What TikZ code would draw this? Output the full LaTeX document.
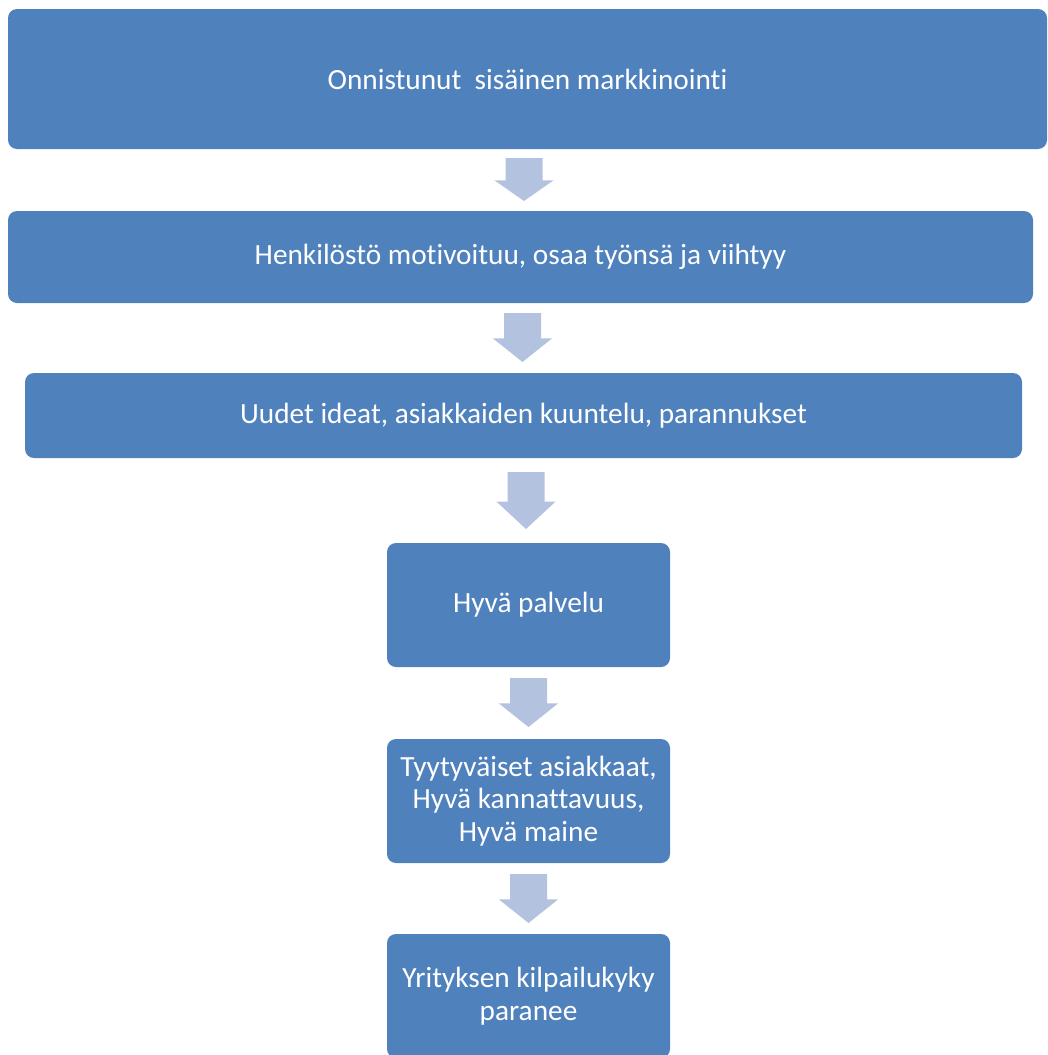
\documentclass[tikz,border=0pt]{standalone}
\usepackage{fontspec}
\setmainfont{Carlito}[RawFeature={-liga}]
\usetikzlibrary{calc}
\definecolor{boxblue}{HTML}{4F81BD}
\definecolor{arrowblue}{HTML}{B3C3DF}
\begin{document}
\begin{tikzpicture}[x=1pt,y=-1pt,
  box/.style={fill=boxblue, draw=none, rounded corners=9pt, text=white,
    font=\fontsize{29.3}{32.5}\selectfont, align=center, inner sep=0pt},
  blockarrow/.style={fill=arrowblue, draw=none,
    to path={let \p1=(\tikztostart), \p2=(\tikztotarget),
      \n1={0.48*(\y1-\y2)} in
      (\x1-18.5pt,\y1) -- (\x1+18.5pt,\y1) -- (\x1+18.5pt,\y2+\n1)
      -- (\x1+29.5pt,\y2+\n1) -- (\x1,\y2) -- (\x1-29.5pt,\y2+\n1)
      -- (\x1-18.5pt,\y2+\n1) -- cycle}}]
\useasboundingbox (0,0) rectangle (1047,1055);
\node[box, minimum width=1039pt, minimum height=140pt] (b1) at (527.5,79) {Onnistunut\ \ sisäinen markkinointi};
\node[box, minimum width=1025pt, minimum height=92pt] (b2) at (520.5,257) {Henkilöstö motivoituu, osaa työnsä ja viihtyy};
\node[box, minimum width=997pt, minimum height=85pt] (b3) at (523.5,415.5) {Uudet ideat, asiakkaiden kuuntelu, parannukset};
\node[box, minimum width=283pt, minimum height=124pt] (b4) at (528.5,605) {Hyvä palvelu};
\node[box, minimum width=283pt, minimum height=124pt] (b5) at (528.5,801) {Tyytyväiset asiakkaat,\\Hyvä kannattavuus,\\Hyvä maine};
\node[box, minimum width=283pt, minimum height=124pt] (b6) at (528.5,996) {Yrityksen kilpailukyky\\paranee};
\coordinate (a1s) at (524,158);   \coordinate (a1e) at (524,201);
\coordinate (a2s) at (522.5,313); \coordinate (a2e) at (522.5,362);
\coordinate (a3s) at (526,472);   \coordinate (a3e) at (526,529);
\coordinate (a4s) at (528.5,678); \coordinate (a4e) at (528.5,727);
\coordinate (a5s) at (528.5,874); \coordinate (a5e) at (528.5,923);
\path[blockarrow] (a1s) to (a1e);
\path[blockarrow] (a2s) to (a2e);
\path[blockarrow] (a3s) to (a3e);
\path[blockarrow] (a4s) to (a4e);
\path[blockarrow] (a5s) to (a5e);
\end{tikzpicture}
\end{document}
